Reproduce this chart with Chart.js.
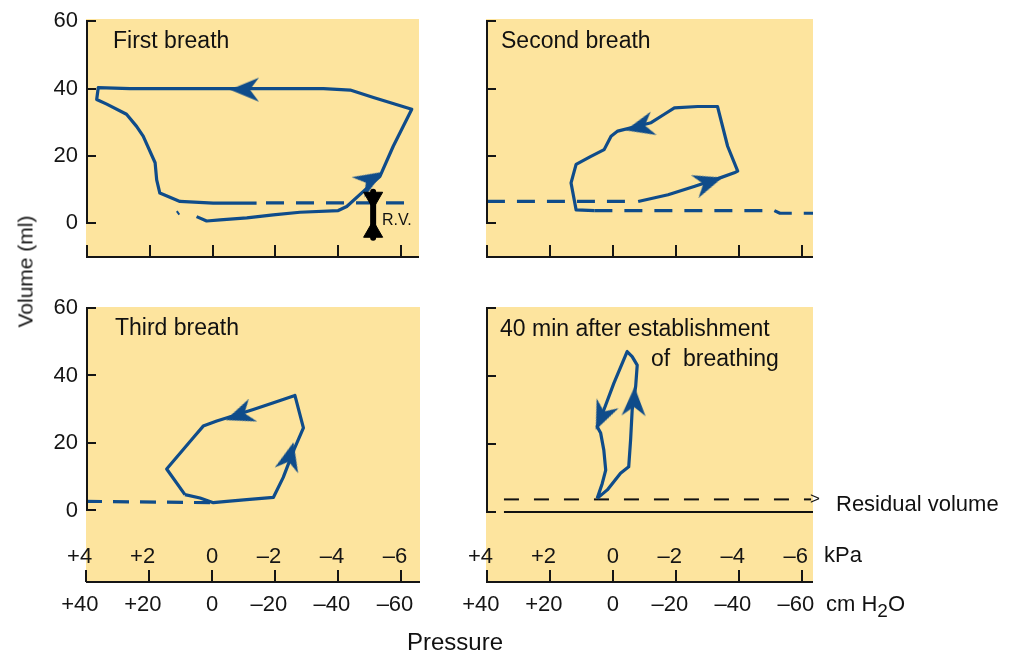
<!DOCTYPE html>
<html><head><meta charset="utf-8">
<script src="https://cdn.jsdelivr.net/npm/chart.js@4.4.1/dist/chart.umd.min.js"></script>
<style>
html,body{margin:0;padding:0;background:#fff;width:1014px;height:654px;overflow:hidden;position:relative;
  font-family:"Liberation Sans",Arial,sans-serif;color:#111;}
canvas{position:absolute;}
.t{position:absolute;white-space:pre;line-height:1;}
</style></head><body>
<canvas id="c1"></canvas><canvas id="c2"></canvas><canvas id="c3"></canvas><canvas id="c4"></canvas>

<div class="t" style="left:113px;top:28.5px;font-size:23px;">First breath</div>
<div class="t" style="left:501px;top:28.5px;font-size:23px;">Second breath</div>
<div class="t" style="left:115px;top:315.5px;font-size:23px;">Third breath</div>
<div class="t" style="left:500px;top:316.5px;font-size:23px;">40 min after establishment</div>
<div class="t" style="left:651px;top:346.5px;font-size:23px;">of  breathing</div>
<div class="t" style="left:382px;top:211.5px;font-size:16px;">R.V.</div>
<div class="t" style="left:810px;top:490px;font-size:17px;">&gt;</div>
<div class="t" style="left:836px;top:493.4px;font-size:22px;">Residual volume</div>
<div class="t" style="left:824px;top:544.4px;font-size:22px;">kPa</div>
<div class="t" style="left:826px;top:593.4px;font-size:22px;">cm H<span style="position:relative;top:6px;font-size:19px;">2</span>O</div>
<div class="t" style="left:355px;top:629.7px;width:200px;text-align:center;font-size:24px;">Pressure</div>
<div class="t" style="left:-44.8px;top:260.5px;width:140px;height:21px;text-align:center;font-size:21px;transform:rotate(-90deg);transform-origin:50% 50%;">Volume (ml)</div>

<script>
// ---------- data ----------
const X_TICKS = [40, 20, 0, -20, -40, -60];          // cm H2O
const CM_LABELS = ['+40', '+20', '0', '–20', '–40', '–60'];
const KPA_TICKS = [40, 20, 0, -20, -40, -60];        // positions in cm H2O
const KPA_LABELS = ['+4', '+2', '0', '–2', '–4', '–6'];
const Y_TICKS = [0, 20, 40, 60];

// First breath
const first_loop_x = [5.1, 1.9, -2.4, -10.9, -19.3, -27.8, -40, -42.7, -48, -53.3, -57.5, -63.4, -51.2, -43.8, -35.3, 26.3, 36.4, 36.9, 33.7, 27.4, 24.2, 22.1, 18.3, 17.8, 16.8, 10.4, -0.2, -14];
const first_loop_y = [2.0, 0.7, 1.0, 1.6, 2.5, 3.3, 3.8, 5.0, 9.5, 14, 22.9, 33.9, 37.4, 39.6, 40, 40, 40.3, 36.8, 35.4, 32.4, 28.8, 25.9, 18, 12.9, 9, 6.5, 6.0, 6.0];
const first_dash_x = [-17, -62];
const first_dash_y = [6.1, 6.1];
const first_tail_x = [11.4, 10.6];
const first_tail_y = [3.6, 2.6];
const first_arrow_x = [-10.3, -50.1];
const first_arrow_y = [39.7, 12.9];
const rv_stem_x = [-51.1, -51.1];
const rv_stem_y = [9.4, -4.3];
const rv_head_x = [-51.1, -51.1];
const rv_head_y = [7.6, -2.5];

// Second breath
const second_dashL_x = [40, -7.5];
const second_dashL_y = [6.5, 6.5];
const second_loop_x = [-8, -17.5, -26, -34, -38.5, -39.6, -36.4, -33.2, -26.9, -19.5, -16.3, -12.1, -1.5, 0.6, 2.8, 7, 11.7, 13.3, 12.3, 11.7, 5.9];
const second_loop_y = [6.5, 8.5, 11, 13.5, 15, 15.5, 22.9, 34.7, 34.7, 34.3, 32.4, 29.9, 27.4, 25.9, 21.9, 19.9, 17.5, 12, 7, 4, 3.8];
const second_dashR_x = [5.9, -51.2, -53, -63.5];
const second_dashR_y = [3.8, 3.8, 3.0, 3.0];
const second_arrow_x = [-30.2, -8.6];
const second_arrow_y = [12.2, 28.7];

// Third breath
const third_dash_x = [40, -1];
const third_dash_y = [2.7, 2.3];
const third_loop_x = [8.6, 3.8, -0.4, -4.7, -11, -19.5, -22.6, -25.8, -29, -26.3, -19.5, -13.1, -1.5, 2.8, 5.9, 14.4, 8.6];
const third_loop_y = [4.7, 3.7, 2.3, 2.7, 3.2, 3.9, 9.8, 17.6, 24.5, 34.1, 31.9, 29.9, 26.5, 25, 21.6, 12.3, 4.7];
const third_arrow_x = [-8.8, -24.7];
const third_arrow_y = [28.3, 15.9];

// 40 min after establishment of breathing
const late_loop_x = [5, 1.8, -2.4, -5, -5.6, -6.1, -7.2, -7.7, -6.1, -4.5, -0.3, 2.9, 5, 3.9, 2.9, 2.3, 3.4, 5];
const late_loop_y = [4, 6.5, 11.4, 13.3, 21.2, 30, 36.9, 43.2, 45.7, 47.2, 37.9, 30, 25.1, 23.2, 18.2, 12.3, 8.4, 4];
const late_arrow_x = [-6.7, 3.5];
const late_arrow_y = [32.4, 28.2];
const residual_x = [34.6, -62.9];
const residual_y = [3.7, 3.7];
const zero_x = [34.6, -63.5];
const zero_y = [0, 0];

// ---------- styles ----------
const FONT = '"Liberation Sans", Arial, sans-serif';
const BLUE = '#0f4c8a';
const YELLOW = 'rgb(253,228,158)';
const INK = '#151515';
const ROT_FIRST = [180, -32];
const ROT_SECOND = [-18, 166];
const ROT_THIRD = [160, -76];
const ROT_LATE = [-88, 114];
const ROT_RV = [180, 0];

function makeArrow(color) {
  const c = document.createElement('canvas');
  c.width = 34; c.height = 28;
  const g = c.getContext('2d');
  g.fillStyle = color;
  g.beginPath();
  g.moveTo(32, 14); g.lineTo(3, 2); g.lineTo(12, 14); g.lineTo(3, 26);
  g.closePath(); g.fill();
  return c;
}
const ARROW = makeArrow(BLUE);

const pts = (xs, ys) => xs.map((x, i) => ({x, y: ys[i]}));
const line = (xs, ys, o) => Object.assign({
  data: pts(xs, ys), showLine: true, borderColor: BLUE, borderWidth: 3.2, pointRadius: 0,
  tension: 0, fill: false, borderJoinStyle: 'round', borderCapStyle: 'butt'
}, o || {});
const dashed = (xs, ys, o) => line(xs, ys, Object.assign({borderDash: [18, 12]}, o || {}));
const arrows = (xs, ys, rot) => ({
  data: pts(xs, ys), showLine: false, pointStyle: ARROW, pointRadius: 12,
  pointRotation: rot, pointBackgroundColor: BLUE, pointBorderWidth: 0
});

const deco = {
  id: 'deco',
  beforeDraw(chart) {
    const {ctx, chartArea: a} = chart;
    ctx.save();
    ctx.fillStyle = YELLOW;
    ctx.fillRect(a.left, a.top, a.right - a.left, a.bottom - a.top);
    ctx.restore();
  },
  afterDraw(chart, args, opts) {
    const {ctx, chartArea: a, scales: {x, y}} = chart;
    ctx.save();
    ctx.strokeStyle = INK; ctx.lineWidth = 2;
    ctx.beginPath();
    ctx.moveTo(a.left, a.bottom); ctx.lineTo(a.right, a.bottom);
    X_TICKS.forEach(v => { const px = Math.round(x.getPixelForValue(v)); ctx.moveTo(px, a.bottom); ctx.lineTo(px, a.bottom - 12); });
    const y0 = y.getPixelForValue(0), y60 = y.getPixelForValue(60);
    ctx.moveTo(a.left + 1, y60); ctx.lineTo(a.left + 1, y0);
    Y_TICKS.forEach(v => { const py = Math.round(y.getPixelForValue(v)); ctx.moveTo(a.left, py); ctx.lineTo(a.left + 10, py); });
    ctx.stroke();
    if (opts && opts.kpa) {
      ctx.fillStyle = INK;
      ctx.font = '22px ' + FONT;
      ctx.textBaseline = 'alphabetic';
      ctx.textAlign = 'left';
      KPA_TICKS.forEach((v, i) => {
        const lab = KPA_LABELS[i];
        const px = x.getPixelForValue(v);
        const sign = /^[+–]/.test(lab) ? lab[0] : '';
        const digits = sign ? lab.slice(1) : lab;
        const sw = sign ? ctx.measureText(sign).width : 0;
        const dw = ctx.measureText(digits).width;
        ctx.fillText(lab, px - dw / 2 - sw, a.bottom - 19);
      });
    }
    ctx.restore();
  }
};

function tickLabel(v) {
  const lab = CM_LABELS[X_TICKS.indexOf(v)];
  return /^[+–]/.test(lab) ? lab + '  ' : lab;
}

function panel(id, box, o) {
  const cv = document.getElementById(id);
  const W = box.r - box.l + 110, H = box.b - box.t + 110;
  cv.width = W; cv.height = H;
  cv.style.left = (box.l - 80) + 'px'; cv.style.top = (box.t - 30) + 'px';
  cv.style.width = W + 'px'; cv.style.height = H + 'px';
  return new Chart(cv, {
    type: 'scatter',
    data: {datasets: o.datasets},
    options: {
      responsive: false, animation: false, devicePixelRatio: 1, events: [],
      layout: {padding: 30},
      plugins: {legend: {display: false}, tooltip: {enabled: false}, deco: {kpa: o.xlabels}},
      scales: {
        x: {
          type: 'linear', reverse: true, min: o.xmin, max: o.xmax,
          afterBuildTicks: s => { s.ticks = X_TICKS.map(v => ({value: v})); },
          afterFit: s => { s.height = 50; },
          grid: {display: false, drawTicks: false}, border: {display: false},
          ticks: {display: o.xlabels, autoSkip: false, maxRotation: 0, minRotation: 0, padding: 10,
                  color: INK, font: {family: FONT, size: 22}, callback: v => tickLabel(v)}
        },
        y: {
          type: 'linear', min: o.ymin, max: o.ymax,
          afterBuildTicks: s => { s.ticks = Y_TICKS.map(v => ({value: v})); },
          afterFit: s => { s.width = 50; },
          grid: {display: false, drawTicks: false}, border: {display: false},
          ticks: {display: o.ylabels, padding: 8, color: INK, font: {family: FONT, size: 22},
                  callback: v => String(v)}
        }
      }
    },
    plugins: [deco]
  });
}

panel('c1', {l: 86, r: 419, t: 19, b: 257}, {
  xmin: -65.7, xmax: 40.3, ymin: -10, ymax: 60.7, xlabels: false, ylabels: true,
  datasets: [
    {data: pts(rv_head_x, rv_head_y), showLine: false, pointStyle: 'triangle', pointRadius: 11,
     pointRotation: ROT_RV, pointBackgroundColor: '#000', pointBorderColor: '#000', pointBorderWidth: 1},
    line(rv_stem_x, rv_stem_y, {borderColor: '#000', borderWidth: 6}),
    arrows(first_arrow_x, first_arrow_y, ROT_FIRST),
    line(first_loop_x, first_loop_y),
    dashed(first_dash_x, first_dash_y),
    line(first_tail_x, first_tail_y, {borderWidth: 2})
  ]
});

panel('c2', {l: 486, r: 813, t: 19, b: 257}, {
  xmin: -63.5, xmax: 40.3, ymin: -10, ymax: 60.7, xlabels: false, ylabels: false,
  datasets: [
    arrows(second_arrow_x, second_arrow_y, ROT_SECOND),
    line(second_loop_x, second_loop_y),
    dashed(second_dashL_x, second_dashL_y),
    dashed(second_dashR_x, second_dashR_y)
  ]
});

panel('c3', {l: 86, r: 420, t: 307, b: 582}, {
  xmin: -66, xmax: 40, ymin: -21.2, ymax: 60.3, xlabels: true, ylabels: true,
  datasets: [
    arrows(third_arrow_x, third_arrow_y, ROT_THIRD),
    line(third_loop_x, third_loop_y),
    dashed(third_dash_x, third_dash_y, {borderDash: [16, 11]})
  ]
});

panel('c4', {l: 486, r: 813, t: 307, b: 582}, {
  xmin: -63.5, xmax: 40.3, ymin: -20.6, ymax: 60.3, xlabels: true, ylabels: false,
  datasets: [
    arrows(late_arrow_x, late_arrow_y, ROT_LATE),
    line(late_loop_x, late_loop_y),
    dashed(residual_x, residual_y, {borderColor: '#111', borderWidth: 2, borderDash: [15, 15]}),
    line(zero_x, zero_y, {borderColor: '#111', borderWidth: 2})
  ]
});
</script>
</body></html>
